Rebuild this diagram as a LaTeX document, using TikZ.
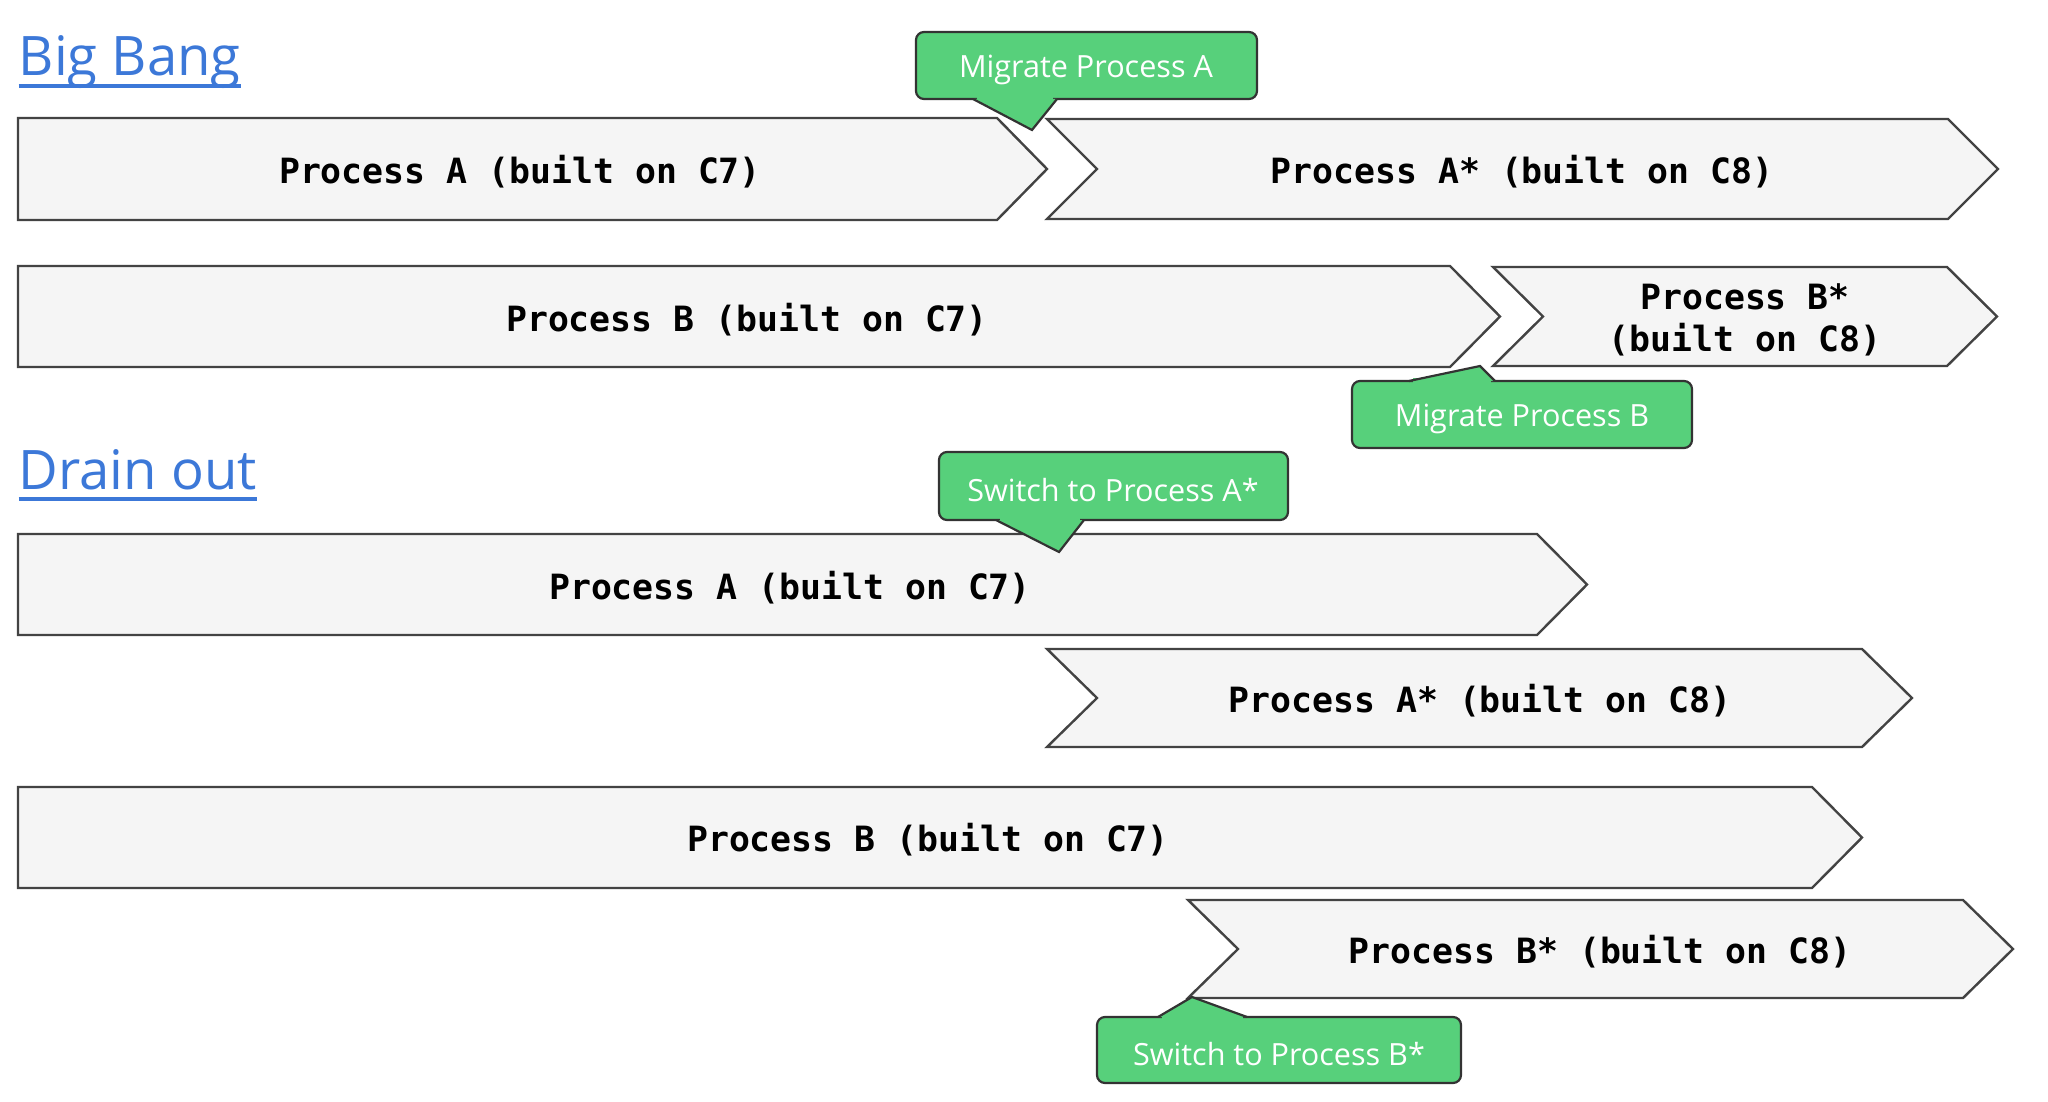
\documentclass[tikz,border=0pt]{standalone}
\usepackage{fontspec}
\setmonofont{DejaVu Sans Mono}
\setsansfont{Open Sans}
\usetikzlibrary{calc}
\definecolor{barfill}{HTML}{F5F5F5}
\definecolor{barline}{HTML}{434343}
\definecolor{callgreen}{HTML}{57D07B}
\definecolor{calline}{HTML}{333333}
\definecolor{linkblue}{HTML}{3C78D8}
\newcommand{\linkul}[1]{\setbox0\hbox{#1}\rlap{\rule[-3.3pt]{\wd0}{1pt}}\box0}
\def\flatbar(#1:#2:#3:#4){\draw[bar] (#1,#3) -- ({#2-50},#3) -- (#2,{(#3+#4)/2}) -- ({#2-50},#4) -- (#1,#4) -- cycle;}
\def\notchbar(#1:#2:#3:#4){\draw[bar] (#1,#3) -- ({#2-50},#3) -- (#2,{(#3+#4)/2}) -- ({#2-50},#4) -- (#1,#4) -- ({#1+50},{(#3+#4)/2}) -- cycle;}
\def\callout(#1:#2:#3:#4)(#5:#6:#7)(#8){\draw[callbox] (#1,#3) rectangle (#2,#4);
	\fill[callgreen] (#5,#7) -- (#8) -- (#6,#7) -- cycle;
	\fill[callgreen] ({#5+4},{#7-3}) rectangle ({#6-4},{#7+3});
	\draw[callline] (#5,#7) -- (#8) -- (#6,#7);}

\begin{document}
\begin{tikzpicture}[x=0.1mm, y=-0.1mm,
		bar/.style={draw=barline, fill=barfill, line width=0.24mm, line join=miter},
		callbox/.style={draw=calline, fill=callgreen, line width=0.22mm, rounded corners=0.8mm},
		callline/.style={draw=calline, line width=0.22mm, line join=miter},
		proc/.style={font=\ttfamily\bfseries\fontsize{9.9}{12}\selectfont, align=center, inner sep=0pt},
		calltext/.style={font=\sffamily\fontsize{8.7}{10}\selectfont, text=white, inner sep=0pt},
		heading/.style={font=\sffamily\fontsize{15.5}{18}\selectfont, text=linkblue, anchor=base west, inner sep=0pt}]
			%%%%% START %%%%%
			\useasboundingbox (0,0) rectangle (2048,1102);
			
			%%%%% BIG BANG %%%%%
			\node[heading] (bigbang) at (18,76) {\linkul{Big Bang}};
			
			\flatbar(18:1047:118:220)
			\notchbar(1047:1998:119:219)
			\node[proc] (bbA) at (520,172) {Process A (built on C7)};
			\node[proc] (bbAs) at (1522,172) {Process A* (built on C8)};
			
			\flatbar(18:1500:266:367)
			\notchbar(1493:1997:267:366)
			\node[proc] (bbB) at (747,320) {Process B (built on C7)};
			\node[proc] (bbBs) at (1745,320) {Process B*\\(built on C8)};
			
			\callout(916:1257:32:99)(973:1057:99)(1032,130)
			\node[calltext] (migA) at (1086,70) {Migrate Process A};
			\callout(1352:1692:381:448)(1409:1495:381)(1480,366)
			\node[calltext] (migB) at (1522,419) {Migrate Process B};
			
			%%%%% DRAIN OUT %%%%%
			\node[heading] (drainout) at (18,489) {\linkul{Drain out}};
			
			\flatbar(18:1587:534:635)
			\node[proc] (dA) at (790,588) {Process A (built on C7)};
			\notchbar(1047:1912:649:747)
			\node[proc] (dAs) at (1480,701) {Process A* (built on C8)};
			
			\flatbar(18:1862:787:888)
			\node[proc] (dB) at (928,840) {Process B (built on C7)};
			\notchbar(1188:2013:900:998)
			\node[proc] (dBs) at (1600,952) {Process B* (built on C8)};
			
			\callout(939:1288:452:520)(996:1084:520)(1059,552)
			\node[calltext] (swA) at (1113,490) {Switch to Process A*};
			\callout(1097:1461:1017:1083)(1158:1247:1017)(1192,997)
			\node[calltext] (swB) at (1279,1054) {Switch to Process B*};
			
			%%%%% END %%%%%
\end{tikzpicture}
\end{document}
